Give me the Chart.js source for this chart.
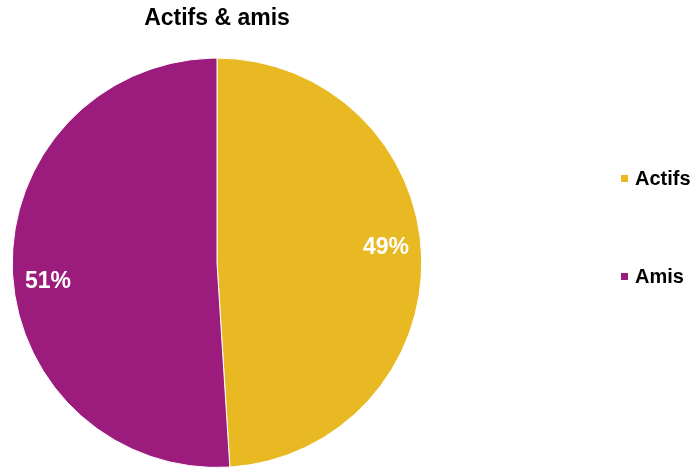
<!DOCTYPE html>
<html>
<head>
<meta charset="utf-8">
<script src="https://cdn.jsdelivr.net/npm/chart.js@4"></script>
<style>
  html, body { margin: 0; padding: 0; background: #fff; }
  #wrap { width: 691px; height: 471px; position: relative; }
</style>
</head>
<body>
<div id="wrap"><canvas id="chartPie"></canvas></div>
<script>
  const chartTitle = 'Actifs & amis';
  const categories = ['Actifs', 'Amis'];
  const shares     = [49, 51];
  const sliceColors = ['#E8B923', '#9C1C7E'];

  const FONT = "'Liberation Sans', Arial, sans-serif";
  Chart.defaults.font.family = FONT;

  // percentage labels inside the slices
  const sliceLabels = {
    id: 'sliceLabels',
    afterDatasetsDraw(chart) {
      const ctx = chart.ctx;
      const meta = chart.getDatasetMeta(0);
      const total = shares.reduce((a, b) => a + b, 0);
      ctx.save();
      ctx.font = 'bold 23px ' + FONT;
      ctx.fillStyle = '#fff';
      ctx.textAlign = 'center';
      ctx.textBaseline = 'middle';
      meta.data.forEach((arc, i) => {
        const p = arc.getProps(['x', 'y', 'startAngle', 'endAngle', 'outerRadius'], true);
        const mid = (p.startAngle + p.endAngle) / 2 - 0.07;
        const r = p.outerRadius * 0.83;
        const pct = Math.round(shares[i] / total * 100) + '%';
        ctx.fillText(pct, p.x + Math.cos(mid) * r, p.y + Math.sin(mid) * r + 2);
      });
      ctx.restore();
    }
  };

  // legend on the right, widely spaced like the original
  const sideLegend = {
    id: 'sideLegend',
    afterDraw(chart) {
      const ctx = chart.ctx;
      const x0 = 621;
      const rows = [178, 276];
      ctx.save();
      ctx.font = 'bold 20px ' + FONT;
      ctx.textBaseline = 'middle';
      ctx.textAlign = 'left';
      categories.forEach((name, i) => {
        ctx.fillStyle = sliceColors[i];
        ctx.fillRect(x0, rows[i] - 3, 7, 7);
        ctx.fillStyle = '#000';
        ctx.fillText(name, x0 + 14, rows[i] + 1);
      });
      ctx.restore();
    }
  };

  new Chart(document.getElementById('chartPie').getContext('2d'), {
    type: 'pie',
    data: {
      labels: categories,
      datasets: [{
        data: shares,
        backgroundColor: sliceColors,
        borderColor: '#fff',
        borderWidth: 1
      }]
    },
    options: {
      responsive: true,
      maintainAspectRatio: false,
      animation: false,
      layout: { padding: { top: 0, right: 257, bottom: 3, left: 0 } },
      plugins: {
        legend: { display: false },
        tooltip: { enabled: false },
        title: {
          display: true,
          text: chartTitle,
          fullSize: false,
          color: '#000',
          font: { size: 23, weight: 'bold', family: FONT },
          padding: { top: 5, bottom: 25 }
        }
      }
    },
    plugins: [sliceLabels, sideLegend]
  });
</script>
</body>
</html>
